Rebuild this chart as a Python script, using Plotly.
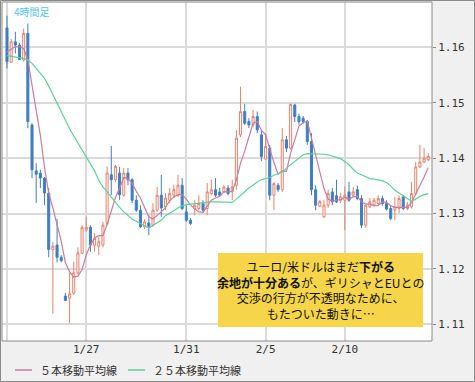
import datetime as dt
import plotly.graph_objects as go

# ---- data (EUR/USD 4-hour candles) ----
open_ = [1.1635, 1.1573, 1.1610, 1.1604, 1.1577, 1.1625, 1.1460, 1.1377, 1.1373, 1.1364,
         1.1337, 1.1235, 1.1243, 1.1221, 1.1151, 1.1147, 1.1156, 1.1193, 1.1228, 1.1270,
         1.1275, 1.1243, 1.1241, 1.1243, 1.1282, 1.1370, 1.1361, 1.1373, 1.1333, 1.1373,
         1.1361, 1.1324, 1.1306, 1.1276, 1.1283, 1.1279, 1.1306, 1.1333, 1.1312, 1.1324,
         1.1333, 1.1333, 1.1351, 1.1303, 1.1288, 1.1309, 1.1309, 1.1318, 1.1309, 1.1336,
         1.1343, 1.1339, 1.1339, 1.1346, 1.1339, 1.1351, 1.1442, 1.1484, 1.1466, 1.1460,
         1.1475, 1.1442, 1.1398, 1.1418, 1.1333, 1.1351, 1.1343, 1.1433, 1.1418, 1.1496,
         1.1475, 1.1472, 1.1466, 1.1430, 1.1343, 1.1313, 1.1294, 1.1315, 1.1339, 1.1332,
         1.1324, 1.1324, 1.1339, 1.1333, 1.1343, 1.1327, 1.1279, 1.1312, 1.1315, 1.1318,
         1.1327, 1.1318, 1.1309, 1.1306, 1.1309, 1.1330, 1.1309, 1.1312, 1.1336, 1.1384,
         1.1393, 1.1397]
high = [1.1657, 1.1615, 1.1628, 1.1608, 1.1634, 1.1643, 1.1463, 1.1391, 1.1379, 1.1366,
        1.1346, 1.1249, 1.1290, 1.1225, 1.1157, 1.1193, 1.1213, 1.1239, 1.1279, 1.1294,
        1.1279, 1.1265, 1.1258, 1.1285, 1.1385, 1.1422, 1.1388, 1.1384, 1.1382, 1.1382,
        1.1364, 1.1333, 1.1315, 1.1290, 1.1297, 1.1319, 1.1348, 1.1370, 1.1337, 1.1346,
        1.1352, 1.1370, 1.1364, 1.1315, 1.1292, 1.1324, 1.1333, 1.1324, 1.1355, 1.1361,
        1.1364, 1.1346, 1.1351, 1.1351, 1.1361, 1.1451, 1.1529, 1.1498, 1.1472, 1.1487,
        1.1484, 1.1451, 1.1445, 1.1424, 1.1357, 1.1355, 1.1454, 1.1440, 1.1498, 1.1498,
        1.1480, 1.1476, 1.1469, 1.1445, 1.1351, 1.1324, 1.1324, 1.1343, 1.1346, 1.1361,
        1.1337, 1.1349, 1.1357, 1.1348, 1.1350, 1.1333, 1.1315, 1.1328, 1.1328, 1.1333,
        1.1332, 1.1324, 1.1315, 1.1330, 1.1333, 1.1333, 1.1321, 1.1357, 1.1393, 1.1424,
        1.1418, 1.1409]
low = [1.1562, 1.1572, 1.1589, 1.1577, 1.1574, 1.1454, 1.1364, 1.1319, 1.1346, 1.1315,
       1.1221, 1.1119, 1.1212, 1.1212, 1.1142, 1.1102, 1.1153, 1.1190, 1.1227, 1.1267,
       1.1231, 1.1231, 1.1225, 1.1239, 1.1279, 1.1333, 1.1357, 1.1324, 1.1330, 1.1351,
       1.1319, 1.1303, 1.1274, 1.1272, 1.1261, 1.1276, 1.1303, 1.1294, 1.1306, 1.1319,
       1.1328, 1.1330, 1.1306, 1.1285, 1.1279, 1.1297, 1.1306, 1.1303, 1.1297, 1.1333,
       1.1330, 1.1330, 1.1337, 1.1333, 1.1324, 1.1343, 1.1438, 1.1460, 1.1454, 1.1456,
       1.1445, 1.1395, 1.1397, 1.1324, 1.1306, 1.1339, 1.1339, 1.1411, 1.1415, 1.1465,
       1.1460, 1.1462, 1.1424, 1.1333, 1.1306, 1.1312, 1.1292, 1.1310, 1.1315, 1.1319,
       1.1319, 1.1270, 1.1321, 1.1330, 1.1324, 1.1274, 1.1274, 1.1310, 1.1312, 1.1315,
       1.1314, 1.1306, 1.1288, 1.1288, 1.1301, 1.1306, 1.1306, 1.1309, 1.1333, 1.1382,
       1.1391, 1.1395]
close = [1.1574, 1.1610, 1.1604, 1.1578, 1.1625, 1.1466, 1.1379, 1.1371, 1.1364, 1.1337,
         1.1235, 1.1241, 1.1221, 1.1215, 1.1143, 1.1155, 1.1193, 1.1229, 1.1275, 1.1275,
         1.1243, 1.1255, 1.1249, 1.1279, 1.1373, 1.1361, 1.1385, 1.1334, 1.1373, 1.1361,
         1.1324, 1.1306, 1.1276, 1.1285, 1.1277, 1.1306, 1.1333, 1.1310, 1.1328, 1.1336,
         1.1343, 1.1351, 1.1309, 1.1288, 1.1282, 1.1315, 1.1318, 1.1306, 1.1339, 1.1343,
         1.1333, 1.1333, 1.1348, 1.1336, 1.1348, 1.1436, 1.1484, 1.1463, 1.1460, 1.1475,
         1.1451, 1.1403, 1.1421, 1.1333, 1.1354, 1.1343, 1.1433, 1.1418, 1.1497, 1.1475,
         1.1466, 1.1466, 1.1430, 1.1343, 1.1315, 1.1322, 1.1315, 1.1336, 1.1321, 1.1321,
         1.1330, 1.1333, 1.1324, 1.1339, 1.1327, 1.1279, 1.1315, 1.1321, 1.1324, 1.1327,
         1.1318, 1.1308, 1.1291, 1.1312, 1.1327, 1.1309, 1.1315, 1.1336, 1.1384, 1.1393,
         1.1400, 1.1403]
ma5 = [1.1592, 1.1597, 1.1601, 1.1601, 1.1598, 1.1577, 1.1530, 1.1484, 1.1441, 1.1383,
       1.1337, 1.1310, 1.1280, 1.1250, 1.1211, 1.1195, 1.1185, 1.1187, 1.1199, 1.1225,
       1.1243, 1.1256, 1.1260, 1.1260, 1.1280, 1.1303, 1.1329, 1.1346, 1.1365, 1.1363,
       1.1355, 1.1340, 1.1328, 1.1311, 1.1294, 1.1290, 1.1296, 1.1303, 1.1311, 1.1323,
       1.1330, 1.1334, 1.1334, 1.1326, 1.1315, 1.1309, 1.1303, 1.1302, 1.1312, 1.1324,
       1.1328, 1.1331, 1.1339, 1.1339, 1.1340, 1.1361, 1.1391, 1.1413, 1.1438, 1.1463,
       1.1466, 1.1450, 1.1442, 1.1416, 1.1392, 1.1371, 1.1377, 1.1376, 1.1409, 1.1433,
       1.1458, 1.1464, 1.1467, 1.1436, 1.1404, 1.1375, 1.1345, 1.1326, 1.1322, 1.1324,
       1.1325, 1.1329, 1.1326, 1.1330, 1.1331, 1.1321, 1.1317, 1.1317, 1.1314, 1.1314,
       1.1321, 1.1320, 1.1314, 1.1311, 1.1311, 1.1310, 1.1311, 1.1320, 1.1335, 1.1348,
       1.1366, 1.1383]
ma25 = [1.1585, 1.1584, 1.1583, 1.1582, 1.1580, 1.1577, 1.1571, 1.1562, 1.1553, 1.1544,
        1.1530, 1.1515, 1.1498, 1.1482, 1.1467, 1.1453, 1.1440, 1.1427, 1.1415, 1.1402,
        1.1389, 1.1377, 1.1360, 1.1348, 1.1339, 1.1329, 1.1320, 1.1311, 1.1303, 1.1296,
        1.1290, 1.1286, 1.1282, 1.1277, 1.1274, 1.1279, 1.1284, 1.1288, 1.1296, 1.1300,
        1.1305, 1.1310, 1.1314, 1.1316, 1.1317, 1.1318, 1.1319, 1.1320, 1.1321, 1.1321,
        1.1321, 1.1321, 1.1321, 1.1320, 1.1320, 1.1326, 1.1333, 1.1340, 1.1346, 1.1351,
        1.1357, 1.1361, 1.1363, 1.1365, 1.1369, 1.1372, 1.1375, 1.1382, 1.1388, 1.1394,
        1.1401, 1.1406, 1.1408, 1.1408, 1.1408, 1.1408, 1.1407, 1.1406, 1.1404, 1.1401,
        1.1399, 1.1394, 1.1388, 1.1380, 1.1373, 1.1370, 1.1366, 1.1363, 1.1362, 1.1361,
        1.1359, 1.1356, 1.1350, 1.1342, 1.1337, 1.1332, 1.1327, 1.1322, 1.1326, 1.1331,
        1.1334, 1.1336]

y_ticks = [1.11, 1.12, 1.13, 1.14, 1.15, 1.16]
date_ticks = ["01/22 00:00", "01/27 00:00", "01/31 00:00", "02/05 00:00", "02/10 00:00"]
date_labels = ["", "1/27", "1/31", "2/5", "2/10"]
series_names = ["５本移動平均線", "２５本移動平均線"]
chart_title = "4時間足"
note_lines = ["ユーロ/米ドルはまだ<b>下がる</b>",
              "<b>余地が十分ある</b>が、ギリシャとEUとの",
              "交渉の行方が不透明なために、",
              "もたついた動きに…"]

# 4-hour bar timestamps (JST): Saturday has two bars, Monday starts at 04:00
times = []
t = dt.datetime(2015, 1, 22, 0)
while len(times) < len(close):
    wd = t.weekday()
    if not ((wd == 5 and t.hour >= 8) or wd == 6 or (wd == 0 and t.hour < 4)):
        times.append(t.strftime("%m/%d %H:%M"))
    t += dt.timedelta(hours=4)

UP = "#E5836B"
DOWN = "#3F7FC0"
PINK = "#C97C9D"
GREEN = "#5FCF99"
W, H = 475, 382
ML, MR, MT, MB = 2, 43, 2, 41
PW, PH = W - ML - MR, H - MT - MB


def px(x):
    return (x - ML) / PW


def py(y):
    return (H - MB - y) / PH


fig = go.Figure()
fig.add_trace(go.Candlestick(
    x=times, open=open_, high=high, low=low, close=close,
    increasing=dict(line=dict(color=UP, width=1), fillcolor="white"),
    decreasing=dict(line=dict(color=DOWN, width=1), fillcolor=DOWN),
    whiskerwidth=0, showlegend=False, hoverinfo="skip"))
fig.add_trace(go.Scatter(x=times, y=ma5, mode="lines", name=series_names[0],
                         line=dict(color=PINK, width=1.2), showlegend=False, hoverinfo="skip"))
fig.add_trace(go.Scatter(x=times, y=ma25, mode="lines", name=series_names[1],
                         line=dict(color=GREEN, width=1.2), showlegend=False, hoverinfo="skip"))

shapes = [
    dict(type="rect", xref="paper", yref="paper", x0=0, x1=1, y0=0, y1=1,
         line=dict(color="#8a8a8a", width=1), layer="above"),
    dict(type="rect", xref="paper", yref="paper",
         x0=px(0.5), x1=px(W - 0.5), y0=py(H - 0.5), y1=py(0.5),
         line=dict(color="#8a8a8a", width=1), layer="above"),
    dict(type="rect", xref="paper", yref="paper",
         x0=px(218), x1=px(423), y0=py(327), y1=py(253),
         fillcolor="#F6D54A", line=dict(width=0), layer="above"),
    dict(type="line", xref="paper", yref="paper", x0=px(15), x1=px(32), y0=py(370), y1=py(370),
         line=dict(color=PINK, width=1.5)),
    dict(type="line", xref="paper", yref="paper", x0=px(128), x1=px(145), y0=py(370), y1=py(370),
         line=dict(color=GREEN, width=1.5)),
]

jp = "Noto Sans CJK JP"
annotations = [
    dict(xref="paper", yref="paper", x=px(38), y=py(370), text=series_names[0], showarrow=False,
         xanchor="left", yanchor="middle", font=dict(family=jp, size=11, color="#333")),
    dict(xref="paper", yref="paper", x=px(151), y=py(370), text=series_names[1], showarrow=False,
         xanchor="left", yanchor="middle", font=dict(family=jp, size=11, color="#333")),
    dict(xref="paper", yref="paper", x=px(12), y=py(12), text=chart_title, showarrow=False,
         xanchor="left", yanchor="middle", font=dict(family=jp, size=10, color="#4FC3F0")),
    dict(xref="paper", yref="paper", x=px(320.5), y=py(290), text="<br>".join(note_lines),
         showarrow=False, xanchor="center", yanchor="middle", align="center",
         font=dict(family=jp, size=12, color="#111")),
]

fig.update_layout(
    width=W, height=H,
    margin=dict(l=ML, r=MR, t=MT, b=MB, pad=0),
    paper_bgcolor="#F0F0F0", plot_bgcolor="white",
    shapes=shapes, annotations=annotations,
    xaxis=dict(type="category", range=[-1.2, len(close) - 0.1],
               tickmode="array", tickvals=date_ticks, ticktext=date_labels,
               showgrid=True, gridcolor="#DADADA", gridwidth=2,
               ticks="", showline=False, zeroline=False,
               tickfont=dict(family="DejaVu Sans Mono", size=11, color="#333"),
               rangeslider=dict(visible=False), fixedrange=True),
    yaxis=dict(side="right", range=[1.10699, 1.16818],
               tickmode="array", tickvals=y_ticks, ticktext=[f"{v:.2f}" for v in y_ticks],
               showgrid=True, gridcolor="#DADADA", gridwidth=2,
               ticks="outside", ticklen=3, tickcolor="#8a8a8a",
               showline=False, zeroline=False,
               tickfont=dict(family="DejaVu Sans Mono", size=11, color="#333"),
               fixedrange=True),
    hovermode=False,
)

fig.write_html("out.html", config={"displayModeBar": False},
               post_script="document.body.style.margin='0';document.body.style.padding='0';")
